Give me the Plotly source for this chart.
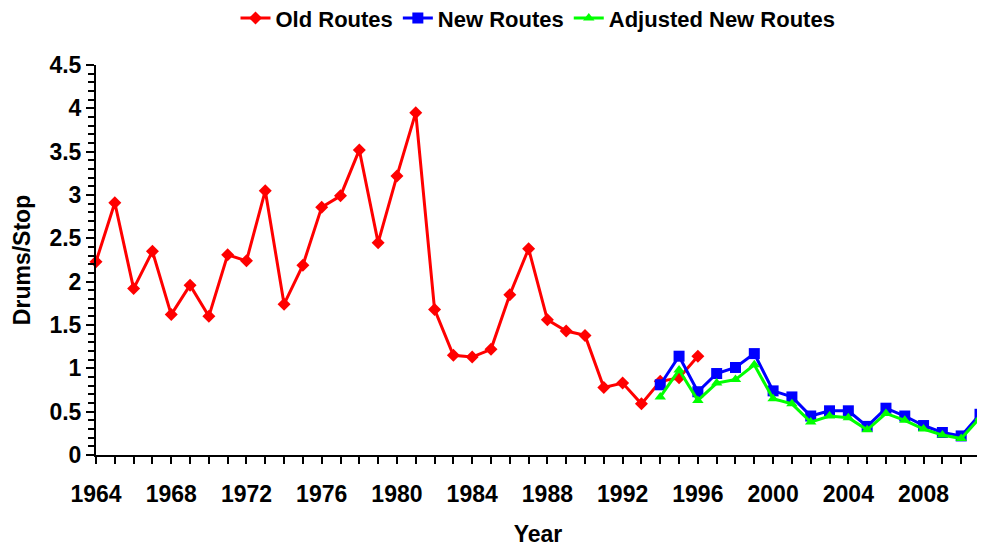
import plotly.graph_objects as go

# ── Data ──────────────────────────────────────────────────────
old_years = list(range(1964, 1997))
old_routes = [2.23, 2.91, 1.92, 2.35, 1.62, 1.96, 1.60, 2.31, 2.24, 3.05,
              1.74, 2.19, 2.86, 2.99, 3.52, 2.45, 3.22, 3.95, 1.68, 1.15,
              1.13, 1.22, 1.85, 2.38, 1.56, 1.43, 1.38, 0.78, 0.83, 0.59,
              0.85, 0.89, 1.14]

new_years = list(range(1994, 2012))
new_routes = [0.81, 1.14, 0.73, 0.94, 1.01, 1.17, 0.74, 0.67, 0.45, 0.51,
              0.51, 0.33, 0.54, 0.45, 0.34, 0.26, 0.22, 0.47]
adjusted_routes = [0.67, 0.98, 0.63, 0.83, 0.87, 1.04, 0.65, 0.59, 0.38, 0.45,
                   0.43, 0.29, 0.48, 0.40, 0.30, 0.23, 0.19, 0.43]

FONT = "Liberation Sans, Arial, sans-serif"

fig = go.Figure()
fig.add_trace(go.Scatter(
    x=old_years, y=old_routes, name="Old Routes", mode="lines+markers",
    line=dict(color="#ff0000", width=3),
    marker=dict(symbol="diamond", size=10, color="#ff0000"),
    cliponaxis=False,
))
fig.add_trace(go.Scatter(
    x=new_years, y=new_routes, name="New Routes", mode="lines+markers",
    line=dict(color="#0000ff", width=3),
    marker=dict(symbol="square", size=11, color="#0000ff"),
    cliponaxis=False,
))
fig.add_trace(go.Scatter(
    x=new_years, y=adjusted_routes, name="Adjusted New Routes", mode="lines+markers",
    line=dict(color="#00ff00", width=3),
    marker=dict(symbol="triangle-up", size=10, color="#00ff00"),
    cliponaxis=False,
))

tick_font = dict(family=FONT, size=23, color="black", weight="bold")
title_font = dict(family=FONT, size=23, color="black", weight="bold")

# main axes: outside ticks + labels
fig.update_layout(
    xaxis=dict(
        range=[1964, 2011], tick0=1964, dtick=4, ticks="outside", ticklen=7,
        tickwidth=2, tickcolor="black", showline=True, linecolor="black",
        linewidth=2, showgrid=False, zeroline=False, tickfont=tick_font,
        ticklabelstandoff=10, automargin=False,
        minor=dict(dtick=1, ticks="outside", ticklen=7, tickwidth=2, tickcolor="black"),
        title=dict(text="Year", font=title_font, standoff=20),
    ),
    yaxis=dict(
        range=[0, 4.5], dtick=0.5, ticks="outside", ticklen=8, tickwidth=2,
        tickcolor="black", showline=True, linecolor="black", linewidth=2,
        showgrid=False, zeroline=False, tickfont=tick_font, automargin=False,
        minor=dict(dtick=0.1, ticks="outside", ticklen=6, tickwidth=2, tickcolor="black"),
        title=dict(text="Drums/Stop", font=title_font, standoff=12),
    ),
    # overlay axes to draw the inner half of the crossing ticks
    xaxis2=dict(
        overlaying="x", anchor="y", side="bottom", range=[1964, 2011],
        tick0=1964, dtick=4, ticks="inside", ticklen=7, tickwidth=2,
        tickcolor="black", showticklabels=False, showgrid=False, zeroline=False,
        automargin=False,
        minor=dict(dtick=1, ticks="inside", ticklen=7, tickwidth=2, tickcolor="black"),
    ),
    yaxis2=dict(
        overlaying="y", anchor="x", side="left", range=[0, 4.5], dtick=0.5,
        ticks="inside", ticklen=8, tickwidth=2, tickcolor="black",
        showticklabels=False, showgrid=False, zeroline=False, automargin=False,
        minor=dict(dtick=0.1, ticks="inside", ticklen=6, tickwidth=2, tickcolor="black"),
    ),
    legend=dict(
        orientation="h", x=0.5, xanchor="center", y=1.12, yanchor="middle",
        font=dict(family=FONT, size=22, color="black", weight="bold"),
        itemwidth=30, tracegroupgap=0, bgcolor="rgba(0,0,0,0)",
    ),
    paper_bgcolor="white",
    plot_bgcolor="white",
    # page body has an 8px margin, so the figure is sized to fit inside it
    width=977,
    height=542,
    margin=dict(l=88, r=5, t=57, b=95, autoexpand=False),
)

fig.write_html("out.html")
